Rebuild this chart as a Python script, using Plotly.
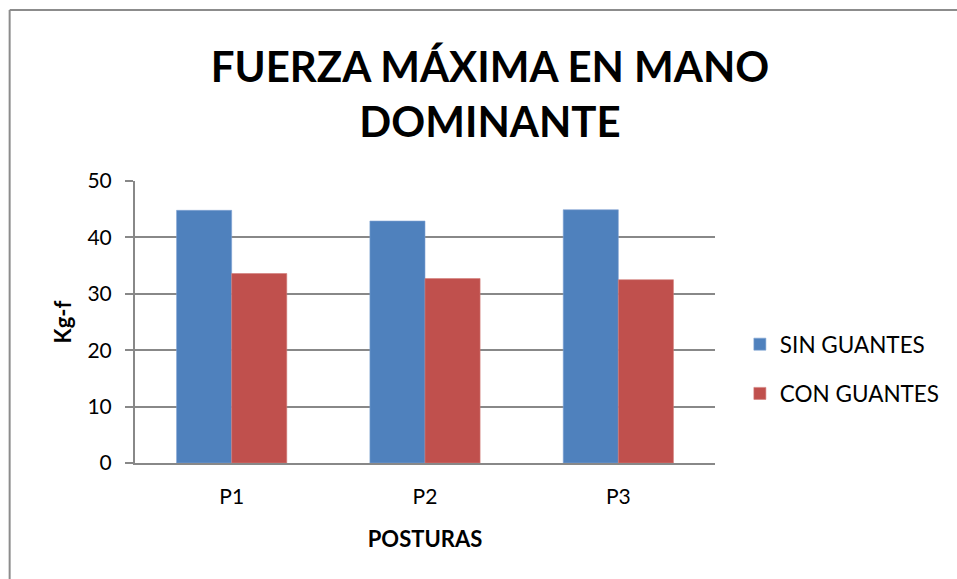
import plotly.graph_objects as go

# Grip strength of the dominant hand by posture
posturas = ["P1", "P2", "P3"]
sin_guantes = [44.8, 42.9, 44.9]
con_guantes = [33.6, 32.7, 32.5]
y_ticks = [0, 10, 20, 30, 40, 50]

AXIS_GRAY = "#888888"
FONT = "Lato"

fig = go.Figure()
fig.add_trace(go.Bar(x=posturas, y=sin_guantes, name="SIN GUANTES",
                     legendgroup="a",
                     marker=dict(color="#4F81BD", line=dict(color="#7FA3D4", width=0.6))))
fig.add_trace(go.Bar(x=posturas, y=con_guantes, name="CON GUANTES",
                     legendgroup="b",
                     marker=dict(color="#C0504D", line=dict(color="#D27C79", width=0.6))))

W, H = 957, 579
L, R, T, B = 135, 239, 181, 116
pw, ph = W - L - R, H - T - B

def px_x(p):
    return (p - L) / pw

def px_y(p):
    return (H - B - p) / ph

fig.update_layout(
    width=W, height=H,
    margin=dict(l=L, r=R, t=T, b=B, pad=0),
    paper_bgcolor="white", plot_bgcolor="white",
    barmode="group", bargap=0.43, bargroupgap=0,
    font=dict(family=FONT, color="black"),
    title=dict(text="<b>FUERZA MÁXIMA EN MANO<br>DOMINANTE</b>",
               font=dict(family=FONT, size=42, color="black"),
               x=490 / W, xanchor="center", xref="container",
               y=1 - 82 / H, yanchor="middle", yref="container"),
    showlegend=True,
    legend=dict(x=px_x(743), xanchor="left", y=px_y(323), yanchor="top",
                font=dict(family=FONT, size=22.5, color="black"),
                traceorder="grouped", tracegroupgap=17,
                bgcolor="rgba(0,0,0,0)"),
    xaxis=dict(showline=True, linecolor=AXIS_GRAY, linewidth=2,
               ticks="", tickfont=dict(size=21, color="black"),
               ticklabelstandoff=14,
               title=dict(text="<b>POSTURAS</b>", font=dict(size=22, color="black"),
                          standoff=24),
               showgrid=False),
    yaxis=dict(range=[0, 50], tickvals=y_ticks, showline=True,
               linecolor=AXIS_GRAY, linewidth=2,
               ticks="outside", ticklen=8, tickcolor=AXIS_GRAY, tickwidth=2,
               tickfont=dict(size=21, color="black"),
               ticklabelstandoff=9,
               showgrid=True, gridcolor=AXIS_GRAY, gridwidth=2,
               title=dict(text="<b>Kg-f</b>", font=dict(size=22, color="black"),
                          standoff=10),
               zeroline=False),
    shapes=[
        dict(type="line", xref="paper", yref="paper",
             x0=px_x(9), x1=px_x(9), y0=px_y(H + 5), y1=px_y(10),
             line=dict(color="#8C8C8C", width=2)),
        dict(type="line", xref="paper", yref="paper",
             x0=px_x(9), x1=px_x(W + 5), y0=px_y(10), y1=px_y(10),
             line=dict(color="#8C8C8C", width=2)),
    ],
)

fig.write_html("out.html")
